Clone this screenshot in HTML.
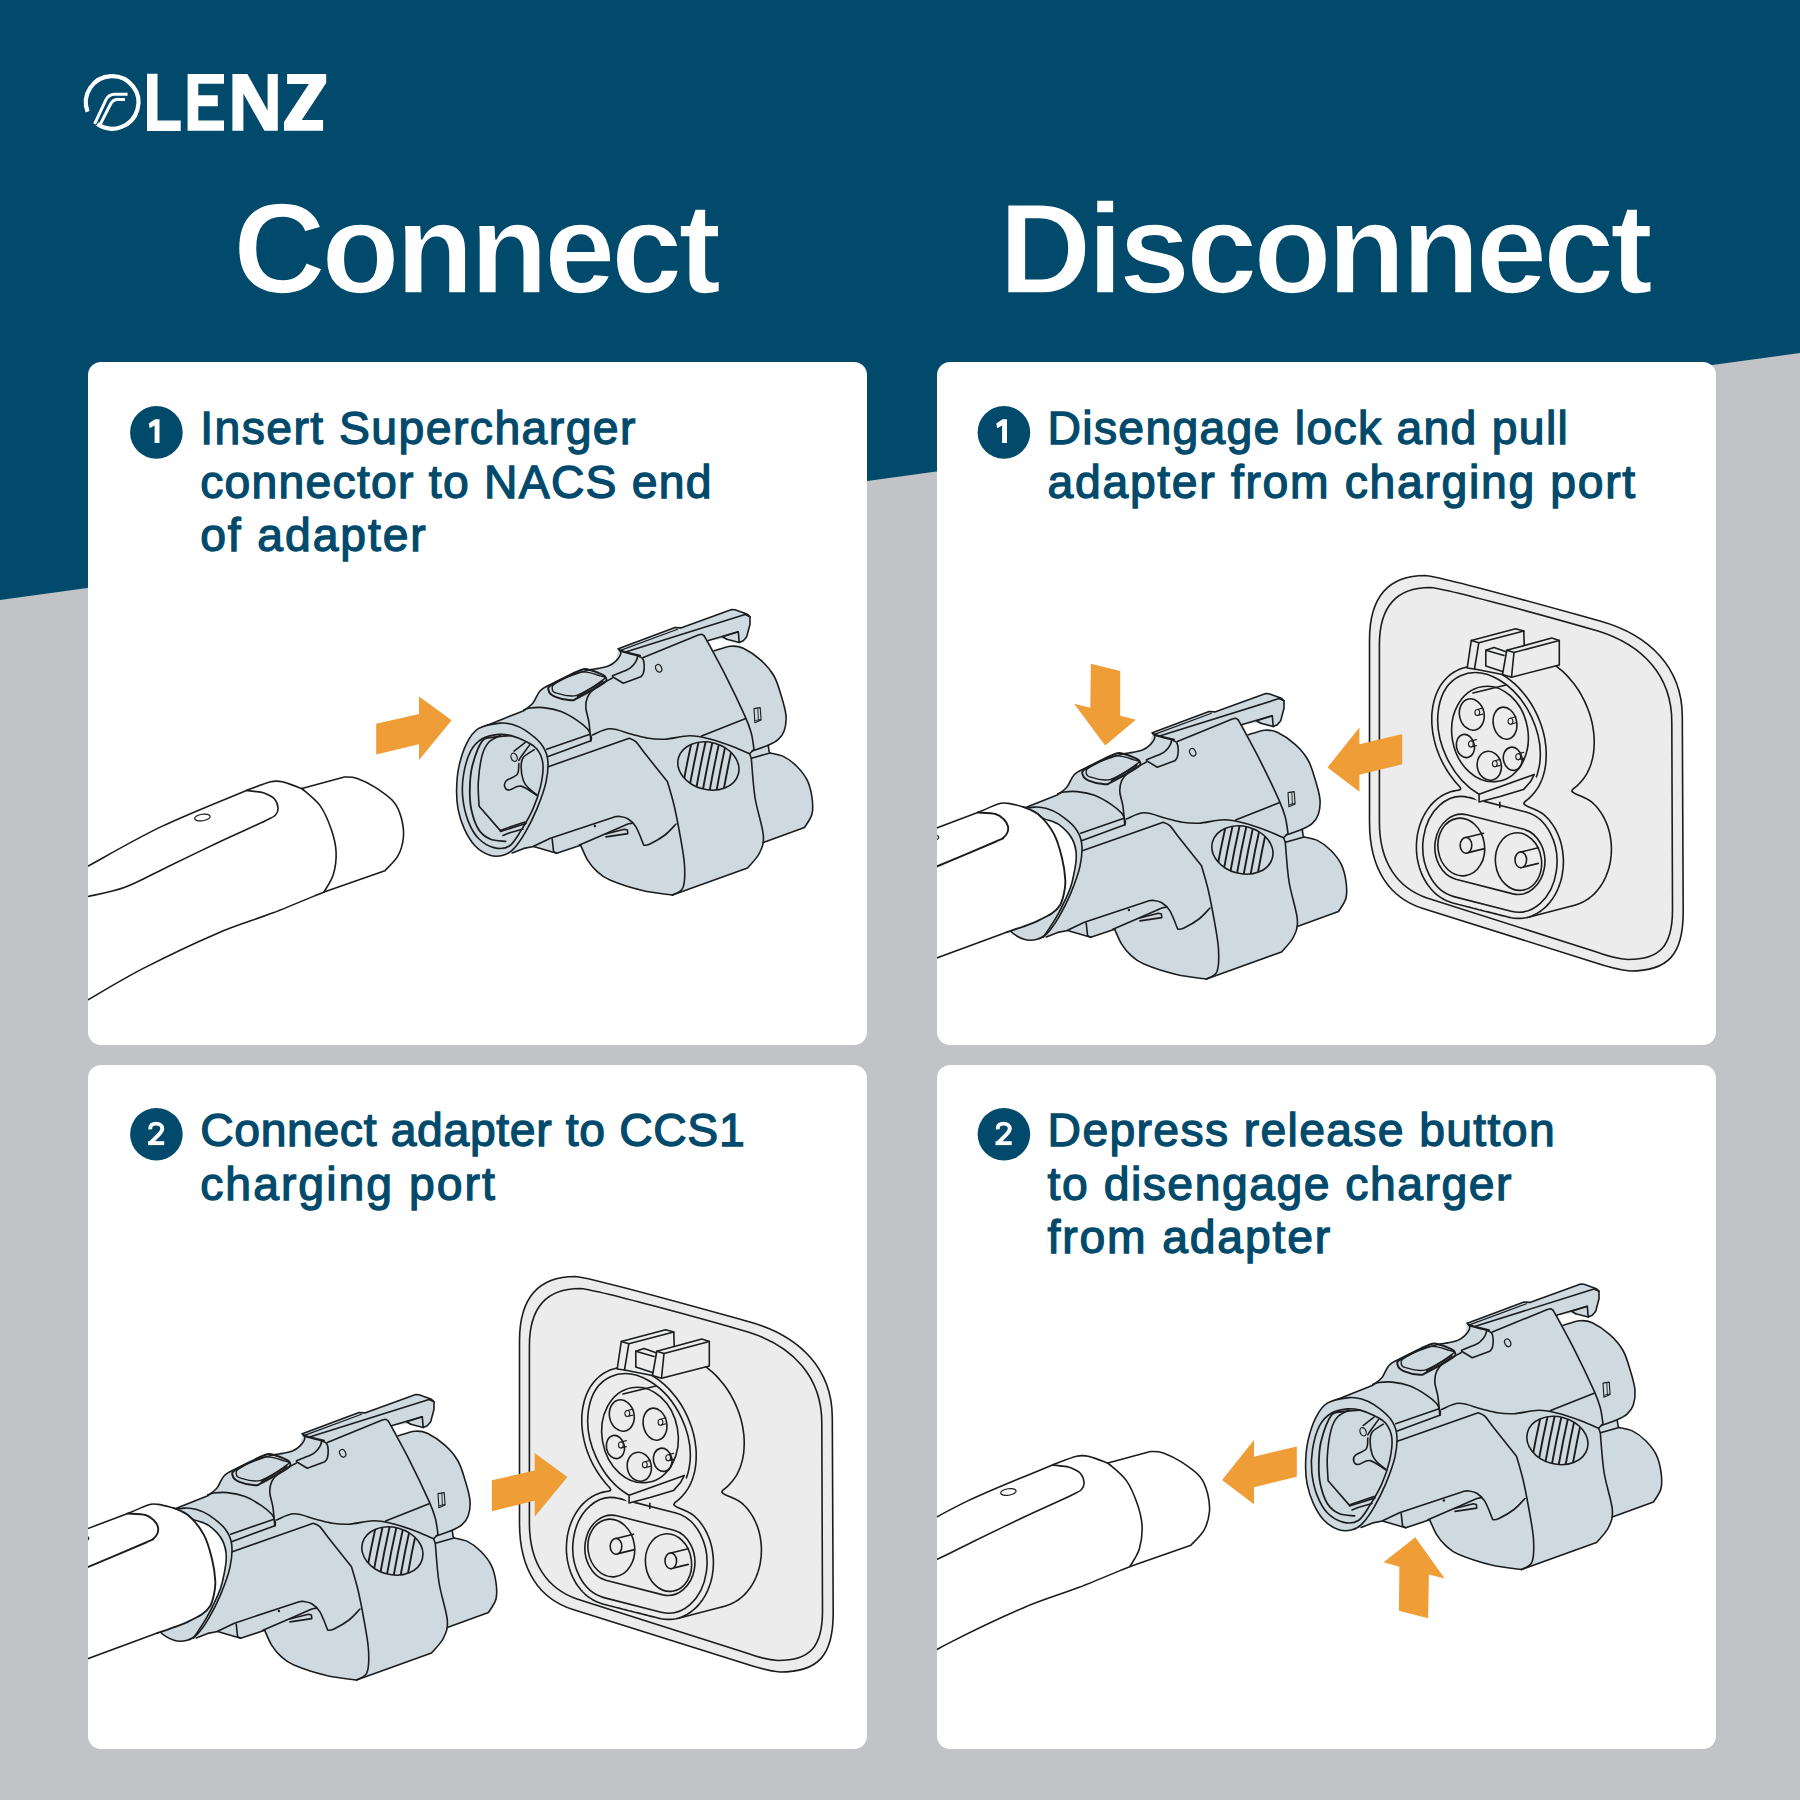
<!DOCTYPE html>
<html><head><meta charset="utf-8">
<style>
html,body{margin:0;padding:0;}
body{width:1800px;height:1800px;position:relative;overflow:hidden;background:#c2c3c7;font-family:"Liberation Sans",sans-serif;}
#bg{position:absolute;left:0;top:0;width:1800px;height:1800px;}
.h1{position:absolute;top:184.3px;color:#fff;font-weight:bold;font-size:127.8px;letter-spacing:-3.88px;-webkit-text-stroke:1.6px #014a6b;line-height:130px;white-space:nowrap;}
.card{position:absolute;width:779px;background:#fff;border-radius:13px;}
.r .txt{left:110.6px}.b .txt{top:39px}
.num{position:absolute;left:42px;top:44px;width:53px;height:53px;border-radius:50%;background:#014a6b;color:#fff;font-weight:bold;font-size:26px;line-height:53px;text-align:center;}
.txt{position:absolute;left:112.2px;top:40.4px;color:#014a6b;font-weight:normal;-webkit-text-stroke:1.3px #014a6b;font-size:46.3px;letter-spacing:1.45px;line-height:53.5px;white-space:nowrap;}
#art{position:absolute;left:0;top:0;width:1800px;height:1800px;}
</style></head>
<body>
<svg id="bg" width="1800" height="1800" viewBox="0 0 1800 1800">
<polygon points="0,0 1800,0 1800,353 0,600" fill="#014a6b"/>
</svg>

<div class="h1" id="hc" style="left:233.2px">Connect</div>
<div class="h1" id="hd" style="left:999px">Disconnect</div>

<div class="card" style="left:88px;top:362px;height:683px">
 <div class="txt"><span>Insert Supercharger</span><br><span style="letter-spacing:1.25px">connector to NACS end</span><br><span style="letter-spacing:1.9px">of adapter</span></div>
</div>
<div class="card r" style="left:937px;top:362px;height:683px">
 <div class="txt"><span style="letter-spacing:1.3px">Disengage lock and pull</span><br><span style="letter-spacing:1.68px">adapter from charging port</span></div>
</div>
<div class="card b" style="left:88px;top:1065px;height:684px">
 <div class="txt"><span style="letter-spacing:0.65px">Connect adapter to CCS1</span><br><span style="letter-spacing:2.03px">charging port</span></div>
</div>
<div class="card r b" style="left:937px;top:1065px;height:684px">
 <div class="txt"><span style="letter-spacing:1.35px">Depress release button</span><br><span style="letter-spacing:1.52px">to disengage charger</span><br><span style="letter-spacing:1.83px">from adapter</span></div>
</div>

<svg id="art" width="1800" height="1800" viewBox="0 0 1800 1800">
<g id="logo" fill="#fff">
<path d="M 87.6 111.8 A 26.3 26.3 0 1 1 97.3 124.1" fill="none" stroke="#fff" stroke-width="4.2"/>
<path d="M 94.6 123.8 L 106 99.6 Q 108.8 94.3 114.5 94.3 L 127.6 94.3" fill="none" stroke="#fff" stroke-width="3"/>
<path d="M 99.6 125.6 L 110.6 104 Q 113 99.6 117.6 99.6 L 125 99.6" fill="none" stroke="#fff" stroke-width="3"/>
<polygon points="147,73.8 157.5,73.8 157.5,120.4 180.7,120.4 180.7,131 147,131"/>
<polygon points="187.6,73.9 224,73.9 224,83.7 198.3,83.7 198.3,95.2 217.8,95.2 217.8,106.3 198.3,106.3 198.3,120.6 224,120.6 224,130.8 187.6,130.8"/>
<polygon points="232.4,130.8 232.4,73.9 247.4,73.9 267.6,110.6 267.6,73.9 277.8,73.9 277.8,130.8 264.4,130.8 243.4,93.5 243.4,130.8"/>
<polygon points="287.1,73.9 326.2,73.9 326.2,83 301.8,120.1 323.1,120.1 323.1,130.8 284,130.8 284,122 308.9,84.1 287.1,84.1"/>
</g>
<g id="nums">
<circle cx="156.4" cy="432.4" r="26.3" fill="#014a6b"/>
<circle cx="1003.9" cy="432.4" r="26.3" fill="#014a6b"/>
<circle cx="156.4" cy="1134.2" r="26.3" fill="#014a6b"/>
<circle cx="1003.9" cy="1134.2" r="26.3" fill="#014a6b"/>
<g id="one" fill="#fff"><polygon points="159.5,419.3 159.5,443 154.6,443 154.6,425.6 149.7,428.2 148.8,423.6 155,419.3"/></g>
<use href="#one" transform="translate(847.5,0)"/>
<g id="two"><path d="M 150.2 1129.4 C 150 1125 152.6 1123.6 156 1123.6 C 159.6 1123.6 162.3 1125.8 162.3 1128.6 C 162.3 1131.2 160.8 1132.6 158.8 1134.6 L 150.8 1142.6" fill="none" stroke="#fff" stroke-width="3.9"/><rect x="148" y="1141.2" width="16.2" height="3.9" fill="#fff"/></g>
<use href="#two" transform="translate(847.5,0)"/>
</g>
<defs><g id="abody" stroke-linejoin="round" stroke-linecap="round"><path d="M457.1 780 L463.3 753.3 L471.3 737.3 L479.3 728.4 L523.8 710.7 L533 703 L540 691 L551 684.3 L570.6 675.8 L587.7 670.3 L598.7 668.4 L608.4 666 L615.8 661.1 L618.3 648.8 L675 627.5 L680.8 627.9 L731.7 609.6 L735 609.8 L747.5 614.2 L750 616.7 L750 624.2 L746.7 636.7 L743.3 640.8 L739.2 642.5 L724 638.8 L708.3 640.8 L714.2 650.8 L730.8 646.2 L743.3 648.3 L761.1 660.4 L774 676 L781 695 L786 715.6 L784.2 730.7 L778 739.6 L768.2 745.3 L769.2 752 L770 752.9 L783.3 756.4 L796.7 766.2 L807.3 780.4 L812 797.5 L812 814 L804.5 827.5 L763.3 842.5 L759.5 853 L747.5 868 L672.5 895 L642.5 890.5 L612.5 880 L596.7 871.1 L587.8 860.4 L580.7 845.3 L556.7 853.3 L533.6 846.5 L523.8 848.4 L512.2 852.9 L503.2 855.3 L490 855.3 L475.2 846 L464.3 828.9 L458.1 809.4Z" fill="#cfdae0" stroke="none"/><path d="M714.2 650.8C717 650 725.9 646.7 730.8 646.2C735.6 645.8 738.2 645.9 743.3 648.3C748.3 650.7 756 655.8 761.1 660.4C766.2 665 770.7 670.2 774 676C777.3 681.8 779 688.4 781 695C783 701.6 785.5 709.6 786 715.6C786.5 721.6 785.5 726.7 784.2 730.7C782.9 734.7 780.7 737.2 778 739.6C775.3 742 772.5 743.4 768.2 745.3C763.9 747.2 754.9 750.1 752.2 751.1" fill="none" stroke="#1a1c1e" stroke-width="1.6"/><path d="M768.2 745.3 L769.2 752" fill="none" stroke="#1a1c1e" stroke-width="1.6"/><path d="M751.5 758.3 L770 752.9" fill="none" stroke="#1a1c1e" stroke-width="1.6"/><path d="M770 752.9C772.2 753.5 778.8 754.2 783.3 756.4C787.8 758.6 792.7 762.2 796.7 766.2C800.7 770.2 804.8 775.2 807.3 780.4C809.8 785.6 811.2 791.9 812 797.5C812.8 803.1 813.2 809 812 814C810.8 819 805.8 825.2 804.5 827.5 L763.3 842.5" fill="none" stroke="#1a1c1e" stroke-width="1.6"/><path d="M704.2 635.8C707.8 642.4 718.8 662.2 725.6 675.6C732.4 689 740.8 706.8 745.1 716.4C749.4 726 749.8 727.8 751.3 733.3C752.8 738.8 753.5 746.6 754 749.3 L749.6 753.8 L751.3 758.2 C751.9 764.8 753 784.7 755 797.5C757 810.3 762.5 825.8 763.3 835C764 844.2 762.1 847.5 759.5 853C756.9 858.5 749.5 865.5 747.5 868 L672.5 895" fill="none" stroke="#1a1c1e" stroke-width="1.6"/><path d="M745.1 718.7 L701.6 736" fill="none" stroke="#1a1c1e" stroke-width="1.6"/><path d="M592.5 735C595.4 734 603.5 728.9 610 728.8C616.5 728.6 625.3 732.6 631.7 734.2C638.1 735.8 642.8 737.5 648.3 738.3C653.8 739.1 658 739.6 665 739.2C672 738.8 682.5 735.8 690 735.8C697.5 735.8 702.9 737.2 710 739C717.1 740.8 725.9 744 732.5 746.5C739.1 749 746.8 752.6 749.6 753.8" fill="none" stroke="#1a1c1e" stroke-width="1.6"/><path d="M548.3 766.7C561.8 762 615.7 743 629.2 738.3 C630.3 738.9 633.3 739.3 635.8 741.7C638.3 744.1 638.9 745.8 644.2 752.5C649.5 759.2 663.6 776.8 667.5 781.7 C668.6 785.6 671.9 796.1 674 805C676.1 813.9 678.2 825 680 835C681.8 845 684 856.2 684.5 865C685 873.8 685 882.5 683 887.5C681 892.5 674.2 893.8 672.5 895" fill="none" stroke="#1a1c1e" stroke-width="1.6"/><path d="M580.7 845.3C581.9 847.8 585.1 856.1 587.8 860.4C590.5 864.7 593 867.8 596.7 871.1C600.4 874.4 602.4 876.8 610 880C617.6 883.2 632.1 888 642.5 890.5C652.9 893 667.5 894.2 672.5 895" fill="none" stroke="#1a1c1e" stroke-width="1.6"/><path d="M533.6 846.2 L550.4 838.2 L614.4 816.9 C615.1 816.8 616.7 816.1 618.9 816.4C621.1 816.7 625 817 627.8 818.7C630.6 820.4 633.1 822.3 635.8 826.7C638.5 831.1 642.5 842.2 643.8 845.3 C644.8 845.1 646.5 845.7 650 844C653.5 842.3 660.7 838.3 665 835C669.3 831.7 674.2 825.8 676 824" fill="none" stroke="#1a1c1e" stroke-width="1.6"/><path d="M578.9 845.3 L605.6 833.8 L627.8 824 L632.2 823.1" fill="none" stroke="#1a1c1e" stroke-width="1.6"/><path d="M605.6 834 L624.4 829.3 L627.4 830 L627.8 833.6 L606 836.9" fill="none" stroke="#1a1c1e" stroke-width="1.6"/><path d="M552.2 839.1 L553.6 851.6 L556.7 853.3 L580.7 845.3" fill="none" stroke="#1a1c1e" stroke-width="1.6"/><circle cx="594.9" cy="826" r="1.2" fill="#1a1c1e"/><path d="M512.2 852.9 L523.8 848.4 L533.6 846.5 L556.7 853.3" fill="none" stroke="#1a1c1e" stroke-width="1.6"/><path d="M523.8 709.8C524.8 709.5 526.8 708.4 530 708C533.2 707.6 538.1 707 543.3 707.6C548.5 708.2 555.5 709.5 561.1 711.6C566.7 713.7 572.7 717.5 577.1 720.4C581.5 723.3 585.4 726.5 587.8 729.3C590.2 732.1 590.8 735.4 591.3 737.3C591.8 739.2 590.9 740.2 590.8 740.8" fill="none" stroke="#1a1c1e" stroke-width="1.6"/><path d="M612.1 678.2C609.2 679.8 599.1 684.9 595 688C590.9 691.1 589.2 693.3 587.7 696.6C586.2 699.9 585.6 703.3 585.8 707.6C586 711.9 588.1 716.7 588.9 722.2C589.7 727.7 590.5 737.7 590.8 740.8" fill="none" stroke="#1a1c1e" stroke-width="1.6"/><path d="M546.7 749.2 L590 734.2" fill="none" stroke="#1a1c1e" stroke-width="1.6"/><path d="M547.5 756.7 L590.8 740.8" fill="none" stroke="#1a1c1e" stroke-width="1.6"/><path d="M479.3 728.4 L523.8 710.7 C525.3 709.4 530.3 706.3 533 703C535.7 699.7 537 694.1 540 691C543 687.9 545.9 686.8 551 684.3C556.1 681.8 564.5 678.1 570.6 675.8C576.7 673.5 583 671.5 587.7 670.3C592.4 669.1 595.2 669.1 598.7 668.4C602.2 667.7 605.5 667.2 608.4 666C611.2 664.8 613.7 663.2 615.8 661.1C617.9 659 620.4 655.4 620.8 653.3C621.2 651.2 618.7 649.5 618.3 648.8" fill="none" stroke="#1a1c1e" stroke-width="1.6"/><path d="M618.3 648.8 L675 627.5 L680.8 627.9 L731.7 609.6 L735 609.8 L747.5 614.2 L750 616.7 L750 624.2 L746.7 636.7 L743.3 640.8 L739.2 642.5 L738.3 631.7 L722.5 636.7 L726.7 639.2" fill="none" stroke="#1a1c1e" stroke-width="1.6"/><path d="M726.7 639.2 L739.2 642.5" fill="none" stroke="#1a1c1e" stroke-width="1.6"/><path d="M625.6 652 L745 614.6 L750 616.7" fill="none" stroke="#1a1c1e" stroke-width="1.6"/><path d="M619.8 650.6 L677.5 629.2" fill="none" stroke="#1a1c1e" stroke-width="1.2"/><path d="M619 649.8 L625.6 652 L640.2 655.6" fill="none" stroke="#1a1c1e" stroke-width="1.6"/><path d="M707.5 640.8 L738.3 631.7" fill="none" stroke="#1a1c1e" stroke-width="1.6"/><path d="M643.3 657.5 L698.3 635 L701.7 634.2 L704.2 635.8" fill="none" stroke="#1a1c1e" stroke-width="1.6"/><path d="M620.8 651.2C623.2 651.9 632.2 654.2 635 655C637.8 655.8 637.4 654.7 637.5 655.8C637.6 656.9 636.8 659.9 635.8 661.7C634.8 663.5 633.2 665.3 631.7 666.7C630.2 668.1 629.9 668.5 626.7 670C623.5 671.5 614.9 674.8 612.5 675.8" fill="none" stroke="#1a1c1e" stroke-width="1.6"/><path d="M637.5 655.8C638.3 656.2 641.4 656.8 642.5 658.3C643.6 659.8 644.1 662.5 644.2 665C644.3 667.5 643.9 671.3 643.3 673.3C642.7 675.2 641.2 676.1 640.8 676.7 L623.3 683.3 L612.5 676.7" fill="none" stroke="#1a1c1e" stroke-width="1.6"/><path d="M548.6 690.4C548.2 688.3 546.9 687.6 552.2 684.3C557.5 680.9 574.2 672.7 580.3 670.3C586.4 667.9 585.2 669 588.9 669.7C592.6 670.4 599.4 673.2 602.3 674.6C605.1 676 605.8 676.8 606 678.2C606.2 679.6 608.3 679.8 603.6 683.1C598.9 686.4 583.4 694.9 577.9 697.8C572.4 700.6 574.5 700.4 570.6 700.2C566.7 700 558.4 698.2 554.7 696.6C551 695 549 692.5 548.6 690.4Z" fill="none" stroke="#1a1c1e" stroke-width="2.0"/><path d="M552.2 688C552.2 686.4 551.2 685.8 555.9 683.1C560.6 680.5 573 673.3 580.3 672.1C587.6 670.9 596 674.6 599.9 675.8C603.8 677 607.5 676.1 603.6 679.4C599.7 682.6 584.7 693 576.7 695.3C568.8 697.5 560 694.1 555.9 692.9C551.8 691.7 552.2 689.6 552.2 688Z" fill="none" stroke="#1a1c1e" stroke-width="1.4"/><path d="M602.8 681.4 L577.5 696.5" fill="none" stroke="#1a1c1e" stroke-width="1.6"/><ellipse cx="658.7" cy="668.3" rx="2.9" ry="4" transform="rotate(-25 658.7 668.3)" fill="none" stroke="#1a1c1e" stroke-width="1.2"/><path d="M754 708.6 L760.2 707.6 L761.1 720 L754.9 722.7Z" fill="none" stroke="#1a1c1e" stroke-width="1.1"/><path d="M755.6 720.6 L760.6 719.4" fill="none" stroke="#1a1c1e" stroke-width="0.9"/><path d="M757.8 708.2 L758.4 720" fill="none" stroke="#1a1c1e" stroke-width="0.9"/><clipPath id="ovc"><ellipse cx="708.4" cy="766" rx="31" ry="23.6" transform="rotate(15 708.4 766)"/></clipPath><path d="M693.7 733 Q686.1 766 680.3 800 M700.6 733 Q693.0 766 687.2 800 M707.6 733 Q700.0 766 694.2 800 M714.5 733 Q706.9 766 701.1 800 M721.4 733 Q713.8 766 708.0 800 M728.3 733 Q720.7 766 714.9 800 M735.3 733 Q727.7 766 721.9 800 " fill="none" stroke="#1a1c1e" stroke-width="1.9" clip-path="url(#ovc)"/><ellipse cx="708.4" cy="766" rx="31" ry="23.6" transform="rotate(15 708.4 766)" fill="none" stroke="#1a1c1e" stroke-width="1.6"/></g><g id="nozzle" stroke-linejoin="round" stroke-linecap="round"><path d="M500.1 723.1C494.3 723.8 483.9 725.2 478.3 728.6C472.7 732 469.9 736.9 466.7 743.3C463.5 749.6 460.6 758.9 458.9 766.7C457.2 774.5 456.7 782.9 456.6 790C456.5 797.1 456.8 802.9 458.1 809.4C459.4 815.9 461.5 822.8 464.3 828.9C467.1 835 470.9 841.6 475.2 846C479.5 850.4 485.3 853.8 490 855.3C494.7 856.8 499.3 856.3 503.2 855.3C507.1 854.3 509.7 852.9 513.3 849.1C516.9 845.4 521.1 839.4 525 832.8C528.9 826.2 533.2 817.8 536.7 809.4C540.2 801 544.2 790.6 546 782.2C547.8 773.8 548.5 765.4 547.6 758.9C546.7 752.4 544.4 748.1 540.6 743.3C536.8 738.5 529.5 733.2 525 730.1C520.5 727 517.4 725.9 513.3 724.7C509.1 723.5 505.9 722.5 500.1 723.1Z" fill="#cfdae0" stroke="#1a1c1e" stroke-width="1.6"/><path d="M498.6 734.4C493.8 734.9 486.9 735.9 482.2 738.7C477.5 741.5 473.7 745.2 470.6 751.1C467.5 757 464.9 766.6 463.6 774.4C462.3 782.2 462 790 462.8 797.8C463.6 805.6 465.6 814.4 468.2 821.1C470.8 827.8 474 833.8 478.3 838.2C482.6 842.6 488.7 846.3 493.9 847.6C499.1 848.9 504.9 848.9 509.4 846C513.9 843.1 517.2 836.5 521.1 830.4C525 824.3 529.5 816.8 532.8 809.4C536 802 538.9 793.7 540.6 786.1C542.3 778.5 543.5 769.8 542.9 763.6C542.2 757.4 539.7 752.6 536.7 748.8C533.7 745 529.3 743.2 525 741C520.7 738.8 515.4 736.7 511 735.6C506.6 734.5 503.4 733.9 498.6 734.4Z" fill="none" stroke="#1a1c1e" stroke-width="1.6"/><path d="M511 735.6C508.1 735.9 498.7 736.3 493.9 737.2C489.1 738.1 485.8 736.1 482.2 741C478.6 745.9 474.2 758.5 472.1 766.7C470 774.9 469.9 782.9 469.8 790C469.7 797.1 469.9 802.9 471.3 809.4C472.7 815.9 475.2 824 478.3 828.9C481.4 833.8 485.4 836.9 490 839C494.6 841.1 503 840.9 505.6 841.3" fill="none" stroke="#1a1c1e" stroke-width="1.8"/><path d="M500 735.5C498.2 736.6 492 738.8 489 742C486 745.2 484 748.3 482.2 755C480.4 761.7 478.8 773.7 478.3 782.2C477.8 790.8 479 802.3 479.1 806.3 L500.1 830.4 L525 821.9" fill="none" stroke="#1a1c1e" stroke-width="1.6"/><path d="M500.5 831.5 L526 823.5" fill="none" stroke="#1a1c1e" stroke-width="1.6"/><path d="M503 835.5 L509 833 L523 829" fill="none" stroke="#1a1c1e" stroke-width="1.6"/><ellipse cx="514.1" cy="757.3" rx="3" ry="4.3" transform="rotate(-20 514.1 757.3)" fill="none" stroke="#1a1c1e" stroke-width="1.2"/><path d="M514.1 751.1 L525 742.6" fill="none" stroke="#1a1c1e" stroke-width="1.6"/><path d="M518.8 760.4C519.2 759.8 519.3 759.2 521.1 756.6C522.9 754 528.2 746.9 529.6 744.9" fill="none" stroke="#1a1c1e" stroke-width="1.6"/><path d="M518.8 763.6C518.5 765.4 519.3 771.5 517.2 774.4C515.1 777.2 508.4 778.6 506.3 780.7C504.2 782.8 504.3 785.4 504.8 786.9C505.3 788.4 506.7 790.1 509.4 790C512.1 789.9 516.5 785.2 521.1 786.1C525.7 787 534.1 793.9 536.7 795.4" fill="none" stroke="#1a1c1e" stroke-width="1.6"/><path d="M534.3 749.6C532.5 750.9 525.6 754.4 523.4 757.3C521.2 760.1 521.1 762.8 521.1 766.7C521.1 770.6 522.1 777.1 523.4 780.7C524.7 784.3 526.7 786.1 528.9 788.4C531.1 790.7 535.4 793.7 536.7 794.7" fill="none" stroke="#1a1c1e" stroke-width="1.6"/></g><g id="handle" stroke-linejoin="round" stroke-linecap="round"><path d="M88 866.1 L161.8 826.4 L246.6 790.4 L270.6 781.8 L283.5 782.1 L301.9 788.6 L344.4 777 L357.3 778.4 L375.7 787.7 L394.2 802.4 L401.6 819 L403.4 837.5 L397.9 855.9 L384.9 870.7 L324.1 891.9 L272.4 913.1 L217.1 933.4 L143.3 968.4 L88 999.8Z" fill="#fff" stroke="none"/><path d="M88 866.1C100.3 859.5 135.4 839 161.8 826.4C188.2 813.8 232.5 796.4 246.6 790.4 C250.6 789 264.5 783.2 270.6 781.8C276.8 780.4 278.3 781 283.5 782.1C288.7 783.2 298.8 787.5 301.9 788.6" fill="none" stroke="#1a1c1e" stroke-width="1.6"/><path d="M301.9 788.6C305 791.5 315.5 799.2 320.4 806.1C325.3 813 328.9 822.4 331.5 830.1C334.1 837.8 335.8 844.8 336.1 852.2C336.4 859.6 335.3 867.8 333.3 874.4C331.3 881 325.6 889 324.1 891.9" fill="none" stroke="#1a1c1e" stroke-width="1.6"/><path d="M301.9 788.6 L344.4 777 C346.5 777.2 352.1 776.6 357.3 778.4C362.5 780.2 369.6 783.7 375.7 787.7C381.8 791.7 389.9 797.2 394.2 802.4C398.5 807.6 400.1 813.1 401.6 819C403.1 824.9 404 831.4 403.4 837.5C402.8 843.6 401 850.4 397.9 855.9C394.8 861.4 387.1 868.2 384.9 870.7 L324.1 891.9" fill="none" stroke="#1a1c1e" stroke-width="1.6"/><path d="M88 999.8C97.2 994.6 121.8 979.5 143.3 968.4C164.8 957.3 195.6 942.6 217.1 933.4C238.6 924.2 254.6 920 272.4 913.1C290.2 906.2 315.5 895.4 324.1 891.9" fill="none" stroke="#1a1c1e" stroke-width="1.6"/><path d="M88 896.5C94.2 895 111.7 892.2 124.9 887.3C138.1 882.4 151.9 874.4 167.3 867C182.7 859.6 200.8 850.7 217.1 843C233.4 835.3 255.3 825.7 265 821C274.7 816.3 273.3 817.2 275.5 815C277.7 812.8 278.2 810.7 278 808C277.8 805.3 276.8 801.5 274.5 799C272.2 796.5 267.4 794.3 264 793C260.6 791.7 256.9 791.8 254 791.4C251.1 791 247.8 790.6 246.6 790.4" fill="none" stroke="#1a1c1e" stroke-width="1.6"/><ellipse cx="202.4" cy="817.5" rx="7.8" ry="3.3" transform="rotate(-8 202.4 817.5)" fill="none" stroke="#1a1c1e" stroke-width="1.2"/></g><polygon id="arR" points="376.2,723.7 419,713.9 419,696.5 451.7,720.3 419,760.1 419,744.2 376.2,754.6" fill="#ef9d36"/><g id="conn" stroke-linejoin="round" stroke-linecap="round"><path d="M1034.1 807.1C1028.3 807.8 1017.9 809.2 1012.3 812.6C1006.7 816 1003.9 820.9 1000.7 827.3C997.5 833.6 994.6 842.9 992.9 850.7C991.2 858.5 990.7 866.9 990.6 874C990.5 881.1 990.8 886.9 992.1 893.4C993.4 899.9 995.4 906.8 998.3 912.9C1001.1 919 1004.9 925.6 1009.2 930C1013.5 934.4 1019.3 937.8 1024 939.3C1028.7 940.8 1033.3 940.3 1037.2 939.3C1041.1 938.3 1043.7 936.9 1047.3 933.1C1050.9 929.4 1055.1 923.4 1059 916.8C1062.9 910.2 1067.2 901.8 1070.7 893.4C1074.2 885 1078.2 874.6 1080 866.2C1081.8 857.8 1082.5 849.4 1081.6 842.9C1080.7 836.4 1078.4 832.1 1074.6 827.3C1070.8 822.5 1063.5 817.2 1059 814.1C1054.5 811 1051.5 809.9 1047.3 808.7C1043.1 807.5 1039.9 806.5 1034.1 807.1Z" fill="#cfdae0" stroke="#1a1c1e" stroke-width="1.6"/><path d="M930 830.5 L977.7 812.5 L998 803.9 L1008.2 803.4 L1023.4 806.9 L1043.7 818.6 L1059 824.7 L1072.2 839 L1076.3 856.3 L1072.2 881.7 L1064 902 L1060 905.3 L1052 913.3 L1036.7 921.3 L1026.7 925.3 L1007.3 932 L930 960.5Z" fill="#fff" stroke="none"/><path d="M1038.7 814.6C1039.5 815.3 1040.3 816.9 1043.7 818.6C1047.1 820.3 1054.2 821.3 1059 824.7C1063.8 828.1 1069.3 833.7 1072.2 839C1075.1 844.3 1076.3 849.2 1076.3 856.3C1076.3 863.4 1073.8 875 1072.2 881.7C1070.6 888.4 1069.3 890.9 1066.7 896.7C1064.1 902.5 1060.6 909.9 1056.7 916.7C1052.8 923.5 1045.5 933.9 1043.3 937.3" fill="none" stroke="#1a1c1e" stroke-width="1.6"/><path d="M930 830.5C938 827.5 966.4 816.9 977.7 812.5C989 808.1 992.9 805.4 998 803.9C1003.1 802.4 1004 802.9 1008.2 803.4C1012.4 803.9 1020.9 806.3 1023.4 806.9" fill="none" stroke="#1a1c1e" stroke-width="1.6"/><path d="M1023.4 806.9C1026 808.2 1033.6 810.1 1038.7 814.6C1043.8 819.1 1050 826.7 1053.9 833.9C1057.8 841.1 1060.1 850.3 1062 858C1063.9 865.7 1065 874.1 1065.3 880C1065.6 885.9 1064.9 889.1 1064 893.3C1063.1 897.5 1062 902 1060 905.3C1058 908.6 1055.9 910.6 1052 913.3C1048.1 916 1040.9 919.3 1036.7 921.3C1032.5 923.3 1031.6 923.5 1026.7 925.3C1021.8 927.1 1010.5 930.9 1007.3 932" fill="none" stroke="#1a1c1e" stroke-width="1.9"/><path d="M930 960.5 L1007.3 932" fill="none" stroke="#1a1c1e" stroke-width="1.6"/><path d="M930 869.3C941 864.7 983.8 846.7 996 841.5C1008.2 836.3 1001.1 839.4 1003 838C1004.9 836.6 1006.4 834.9 1007.2 833C1008 831.1 1008.5 828.8 1008 826.5C1007.5 824.2 1006.1 821.6 1004 819.5C1001.9 817.4 999.9 815.2 995.5 814C991.1 812.8 980.7 812.8 977.7 812.5" fill="none" stroke="#1a1c1e" stroke-width="1.9"/><ellipse cx="931" cy="838.2" rx="7.8" ry="3.3" transform="rotate(-8 931 838.2)" fill="none" stroke="#1a1c1e" stroke-width="1.2"/></g><g id="port" stroke-linejoin="round" stroke-linecap="round"><path d="M1369.5 640 C1369.5 597 1388 575.5 1425.3 575.5 C1440 576 1560 610 1600 621 C1650 635 1682 668 1682.3 716 L1683.2 912 C1683.2 955 1668 971 1630 971 C1618 970 1605 966 1593 962 L1423 908.5 C1390 898 1369.5 870 1369.5 822 Z" fill="#ececec" stroke="#1a1c1e" stroke-width="1.6"/><path d="M1379.4 645 C1379.4 607 1396 587.5 1430 587.5 C1445 588 1560 620 1598 631 C1643 645 1671.8 676 1671.8 722 L1672.5 910 C1672.5 946 1660 959.5 1628 959.5 C1617 959 1606 955.5 1595 951.5 L1427 898 C1398 888 1379.4 863 1379.4 822 Z" fill="none" stroke="#1a1c1e" stroke-width="1.6"/><path d="M1536.4 789.9 L1534.7 792.3 L1532.7 794.6 L1530.6 796.8 L1528.4 798.8 L1526.2 800.6 L1524.4 802.2 L1523.8 803.6 L1525.0 804.9 L1527.3 806.2 L1530.0 807.4 L1532.7 808.6 L1535.4 809.8 L1538.2 811.1 L1540.8 812.5 L1543.2 814.2 L1545.5 816.2 L1547.6 818.3 L1549.6 820.5 L1551.4 822.9 L1553.1 825.4 L1554.7 827.9 L1556.1 830.5 L1557.4 833.2 L1558.6 836.0 L1559.7 838.8 L1560.6 841.7 L1561.4 844.6 L1562.0 847.5 L1562.5 850.4 L1562.9 853.4 L1563.2 856.4 L1563.4 859.4 L1563.4 862.4 L1563.3 865.4 L1563.1 868.4 L1562.7 871.4 L1562.3 874.3 L1561.7 877.3 L1561.0 880.2 L1560.1 883.1 L1559.1 885.9 L1558.0 888.7 L1556.8 891.4 L1555.4 894.1 L1553.9 896.6 L1552.2 899.2 L1550.4 901.6 L1548.5 903.9 L1546.5 906.1 L1544.3 908.1 L1542.0 910.0 L1539.6 911.8 L1537.0 913.4 L1534.4 914.8 L1531.6 915.9 L1528.8 916.9 L1525.9 917.7 L1523.0 918.2 L1520.0 918.4 L1517.0 918.4 L1514.0 918.2 L1511.1 917.7 L1508.1 917.1 L1505.2 916.3 L1502.3 915.6 L1499.4 914.9 L1496.5 914.1 L1493.6 913.4 L1490.7 912.6 L1487.8 911.9 L1484.8 911.2 L1481.9 910.4 L1479.0 909.7 L1476.1 908.9 L1473.2 908.2 L1470.3 907.4 L1467.4 906.7 L1464.5 906.0 L1461.6 905.2 L1458.7 904.5 L1455.7 903.7 L1452.8 902.9 L1450.0 902.0 L1447.2 901.0 L1444.5 899.7 L1441.9 898.2 L1439.4 896.6 L1437.0 894.8 L1434.7 892.8 L1432.6 890.7 L1430.6 888.5 L1428.7 886.1 L1427.0 883.7 L1425.4 881.2 L1423.9 878.5 L1422.6 875.9 L1421.4 873.1 L1420.3 870.3 L1419.4 867.5 L1418.6 864.6 L1417.9 861.6 L1417.3 858.7 L1416.9 855.7 L1416.6 852.7 L1416.4 849.8 L1416.4 846.8 L1416.5 843.8 L1416.7 840.8 L1417.0 837.8 L1417.4 834.8 L1418.0 831.9 L1418.7 829.0 L1419.5 826.1 L1420.5 823.2 L1421.6 820.4 L1422.8 817.7 L1424.2 815.0 L1425.7 812.4 L1427.3 809.9 L1429.0 807.5 L1430.9 805.1 L1432.9 802.9 L1435.1 800.8 L1437.4 798.9 L1439.8 797.1 L1442.3 795.5 L1444.9 794.1 L1447.7 792.9 L1450.5 791.8 L1453.4 791.1 L1456.2 790.5 L1458.9 790.1 L1460.5 789.4 L1460.6 788.1 L1459.3 786.3 L1457.4 784.2 L1455.4 781.9 L1453.5 779.6 L1451.7 777.2 L1449.9 774.8 L1448.2 772.3 L1446.6 769.8 L1445.1 767.2 L1443.6 764.6 L1442.2 761.9 L1440.9 759.2 L1439.7 756.5 L1438.6 753.7 L1437.5 750.9 L1436.5 748.1 L1435.6 745.2 L1434.8 742.3 L1434.1 739.4 L1433.5 736.4 L1432.9 733.5 L1432.5 730.5 L1432.2 727.5 L1431.9 724.5 L1431.8 721.6 L1431.8 718.6 L1431.8 715.6 L1432.0 712.6 L1432.4 709.6 L1432.8 706.6 L1433.4 703.7 L1434.1 700.7 L1434.9 697.9 L1435.9 695.0 L1437.0 692.3 L1438.3 689.6 L1439.7 686.9 L1441.3 684.4 L1443.1 682.0 L1445.0 679.7 L1447.1 677.5 L1449.3 675.5 L1451.7 673.7 L1454.2 672.0 L1456.8 670.6 L1459.5 669.3 L1462.3 668.3 L1465.2 667.5 L1468.1 666.9 L1471.1 666.6 L1474.1 666.4 L1477.1 666.5 L1480.1 666.8 L1483.0 667.2 L1486.0 667.8 L1488.8 668.6 L1491.7 669.6 L1494.5 670.7 L1497.2 671.9 L1499.9 673.3 L1502.5 674.8 L1505.0 676.4 L1507.5 678.1 L1509.9 679.9 L1512.2 681.8 L1514.5 683.7 L1516.7 685.8 L1518.8 687.9 L1520.8 690.1 L1522.8 692.4 L1524.7 694.7 L1526.5 697.1 L1528.3 699.5 L1530.0 702.0 L1531.6 704.5 L1533.1 707.1 L1534.6 709.8 L1535.9 712.4 L1537.2 715.1 L1538.4 717.9 L1539.6 720.7 L1540.6 723.5 L1541.6 726.3 L1542.5 729.2 L1543.3 732.1 L1544.0 735.0 L1544.6 737.9 L1545.1 740.9 L1545.5 743.9 L1545.9 746.8 L1546.1 749.8 L1546.2 752.8 L1546.2 755.8 L1546.1 758.8 L1545.9 761.8 L1545.6 764.8 L1545.1 767.8 L1544.6 770.7 L1543.8 773.6 L1543.0 776.5 L1542.0 779.3 L1540.8 782.1 L1539.5 784.8 L1538.1 787.4Z" transform="translate(48,-12.5)" fill="#ececec" stroke="#1a1c1e" stroke-width="1.6" stroke-linejoin="round"/><path d="M1464.3 667.6 L1512.3 655.1 L1537 724.5 L1489 737 Z" fill="#ececec" stroke="none"/><path d="M1527.5 917.5 L1575.5 905 L1566.5 849.1 L1518.5 861.6 Z" fill="#ececec" stroke="none"/><path d="M1527.5 917.5 L1575.5 905" fill="none" stroke="#1a1c1e" stroke-width="1.6"/><path d="M1536.4 789.9 L1534.7 792.3 L1532.7 794.6 L1530.6 796.8 L1528.4 798.8 L1526.2 800.6 L1524.4 802.2 L1523.8 803.6 L1525.0 804.9 L1527.3 806.2 L1530.0 807.4 L1532.7 808.6 L1535.4 809.8 L1538.2 811.1 L1540.8 812.5 L1543.2 814.2 L1545.5 816.2 L1547.6 818.3 L1549.6 820.5 L1551.4 822.9 L1553.1 825.4 L1554.7 827.9 L1556.1 830.5 L1557.4 833.2 L1558.6 836.0 L1559.7 838.8 L1560.6 841.7 L1561.4 844.6 L1562.0 847.5 L1562.5 850.4 L1562.9 853.4 L1563.2 856.4 L1563.4 859.4 L1563.4 862.4 L1563.3 865.4 L1563.1 868.4 L1562.7 871.4 L1562.3 874.3 L1561.7 877.3 L1561.0 880.2 L1560.1 883.1 L1559.1 885.9 L1558.0 888.7 L1556.8 891.4 L1555.4 894.1 L1553.9 896.6 L1552.2 899.2 L1550.4 901.6 L1548.5 903.9 L1546.5 906.1 L1544.3 908.1 L1542.0 910.0 L1539.6 911.8 L1537.0 913.4 L1534.4 914.8 L1531.6 915.9 L1528.8 916.9 L1525.9 917.7 L1523.0 918.2 L1520.0 918.4 L1517.0 918.4 L1514.0 918.2 L1511.1 917.7 L1508.1 917.1 L1505.2 916.3 L1502.3 915.6 L1499.4 914.9 L1496.5 914.1 L1493.6 913.4 L1490.7 912.6 L1487.8 911.9 L1484.8 911.2 L1481.9 910.4 L1479.0 909.7 L1476.1 908.9 L1473.2 908.2 L1470.3 907.4 L1467.4 906.7 L1464.5 906.0 L1461.6 905.2 L1458.7 904.5 L1455.7 903.7 L1452.8 902.9 L1450.0 902.0 L1447.2 901.0 L1444.5 899.7 L1441.9 898.2 L1439.4 896.6 L1437.0 894.8 L1434.7 892.8 L1432.6 890.7 L1430.6 888.5 L1428.7 886.1 L1427.0 883.7 L1425.4 881.2 L1423.9 878.5 L1422.6 875.9 L1421.4 873.1 L1420.3 870.3 L1419.4 867.5 L1418.6 864.6 L1417.9 861.6 L1417.3 858.7 L1416.9 855.7 L1416.6 852.7 L1416.4 849.8 L1416.4 846.8 L1416.5 843.8 L1416.7 840.8 L1417.0 837.8 L1417.4 834.8 L1418.0 831.9 L1418.7 829.0 L1419.5 826.1 L1420.5 823.2 L1421.6 820.4 L1422.8 817.7 L1424.2 815.0 L1425.7 812.4 L1427.3 809.9 L1429.0 807.5 L1430.9 805.1 L1432.9 802.9 L1435.1 800.8 L1437.4 798.9 L1439.8 797.1 L1442.3 795.5 L1444.9 794.1 L1447.7 792.9 L1450.5 791.8 L1453.4 791.1 L1456.2 790.5 L1458.9 790.1 L1460.5 789.4 L1460.6 788.1 L1459.3 786.3 L1457.4 784.2 L1455.4 781.9 L1453.5 779.6 L1451.7 777.2 L1449.9 774.8 L1448.2 772.3 L1446.6 769.8 L1445.1 767.2 L1443.6 764.6 L1442.2 761.9 L1440.9 759.2 L1439.7 756.5 L1438.6 753.7 L1437.5 750.9 L1436.5 748.1 L1435.6 745.2 L1434.8 742.3 L1434.1 739.4 L1433.5 736.4 L1432.9 733.5 L1432.5 730.5 L1432.2 727.5 L1431.9 724.5 L1431.8 721.6 L1431.8 718.6 L1431.8 715.6 L1432.0 712.6 L1432.4 709.6 L1432.8 706.6 L1433.4 703.7 L1434.1 700.7 L1434.9 697.9 L1435.9 695.0 L1437.0 692.3 L1438.3 689.6 L1439.7 686.9 L1441.3 684.4 L1443.1 682.0 L1445.0 679.7 L1447.1 677.5 L1449.3 675.5 L1451.7 673.7 L1454.2 672.0 L1456.8 670.6 L1459.5 669.3 L1462.3 668.3 L1465.2 667.5 L1468.1 666.9 L1471.1 666.6 L1474.1 666.4 L1477.1 666.5 L1480.1 666.8 L1483.0 667.2 L1486.0 667.8 L1488.8 668.6 L1491.7 669.6 L1494.5 670.7 L1497.2 671.9 L1499.9 673.3 L1502.5 674.8 L1505.0 676.4 L1507.5 678.1 L1509.9 679.9 L1512.2 681.8 L1514.5 683.7 L1516.7 685.8 L1518.8 687.9 L1520.8 690.1 L1522.8 692.4 L1524.7 694.7 L1526.5 697.1 L1528.3 699.5 L1530.0 702.0 L1531.6 704.5 L1533.1 707.1 L1534.6 709.8 L1535.9 712.4 L1537.2 715.1 L1538.4 717.9 L1539.6 720.7 L1540.6 723.5 L1541.6 726.3 L1542.5 729.2 L1543.3 732.1 L1544.0 735.0 L1544.6 737.9 L1545.1 740.9 L1545.5 743.9 L1545.9 746.8 L1546.1 749.8 L1546.2 752.8 L1546.2 755.8 L1546.1 758.8 L1545.9 761.8 L1545.6 764.8 L1545.1 767.8 L1544.6 770.7 L1543.8 773.6 L1543.0 776.5 L1542.0 779.3 L1540.8 782.1 L1539.5 784.8 L1538.1 787.4Z" fill="#ececec" stroke="#1a1c1e" stroke-width="1.6"/><clipPath id="clU"><polygon points="1380,560 1620,560 1620,800 1545,792 1536,777 1479.1,794.2 1470,800 1380,800"/></clipPath><clipPath id="clL"><polygon points="1380,1000 1620,1000 1620,812 1524,789.6 1480,802.5 1470,795 1380,765"/></clipPath><g clip-path="url(#clU)"><ellipse cx="1489.0" cy="737.0" rx="47.0" ry="67.5" transform="rotate(-25 1489.0 737.0)" fill="none" stroke="#1a1c1e" stroke-width="1.6"/></g><g clip-path="url(#clL)"><path d="M1468.7 797.4 L1525.9 812.0 A38.5 50.5 0 0 1 1511.1 911.2 L1453.9 896.6 A38.5 50.5 0 0 1 1468.7 797.4 Z" fill="none" stroke="#1a1c1e" stroke-width="1.6"/></g><ellipse cx="1490.0" cy="734.0" rx="38.0" ry="48.0" transform="rotate(-10 1490.0 734.0)" fill="none" stroke="#1a1c1e" stroke-width="1.6"/><path d="M1473 693 L1506 685" fill="none" stroke="#1a1c1e" stroke-width="1.6"/><path d="M1479.1 794.2 L1534.3 774.4 L1530.4 781.8 L1523.4 789.6 L1500 796.5 L1479.1 802Z" fill="#ececec" stroke="#1a1c1e" stroke-width="1.6"/><path d="M1499.8 802.3 L1499.8 807.5" fill="none" stroke="#1a1c1e" stroke-width="1.6"/><path d="M1466.8 814.7 L1524.0 829.3 A27.0 33.0 0 0 1 1513.0 893.9 L1455.8 879.3 A27.0 33.0 0 0 1 1466.8 814.7 Z" fill="none" stroke="#1a1c1e" stroke-width="1.6"/><ellipse cx="1471.8" cy="714.5" rx="12.3" ry="15.8" transform="rotate(-12 1471.8 714.5)" fill="none" stroke="#1a1c1e" stroke-width="1.6"/><path d="M1477.3 709.5 L1482.8 708.1" fill="none" stroke="#1a1c1e" stroke-width="1.1"/><path d="M1477.3 715.5 L1482.8 714.1" fill="none" stroke="#1a1c1e" stroke-width="1.1"/><ellipse cx="1477.3" cy="712.5" rx="2.4" ry="3" fill="#ececec" stroke="#1a1c1e" stroke-width="1.1"/><ellipse cx="1505.0" cy="723.2" rx="11.7" ry="16.2" transform="rotate(-12 1505.0 723.2)" fill="none" stroke="#1a1c1e" stroke-width="1.6"/><path d="M1510.5 718.2 L1516 716.8" fill="none" stroke="#1a1c1e" stroke-width="1.1"/><path d="M1510.5 724.2 L1516 722.8" fill="none" stroke="#1a1c1e" stroke-width="1.1"/><ellipse cx="1510.5" cy="721.2" rx="2.4" ry="3" fill="#ececec" stroke="#1a1c1e" stroke-width="1.1"/><ellipse cx="1465.4" cy="746.0" rx="9.0" ry="11.7" transform="rotate(-12 1465.4 746.0)" fill="none" stroke="#1a1c1e" stroke-width="1.6"/><path d="M1470.9 741 L1476.4 739.6" fill="none" stroke="#1a1c1e" stroke-width="1.1"/><path d="M1470.9 747 L1476.4 745.6" fill="none" stroke="#1a1c1e" stroke-width="1.1"/><ellipse cx="1470.9" cy="744.0" rx="2.4" ry="3" fill="#ececec" stroke="#1a1c1e" stroke-width="1.1"/><ellipse cx="1489.3" cy="765.8" rx="12.0" ry="14.6" transform="rotate(-12 1489.3 765.8)" fill="none" stroke="#1a1c1e" stroke-width="1.6"/><path d="M1494.8 760.8 L1500.3 759.4" fill="none" stroke="#1a1c1e" stroke-width="1.1"/><path d="M1494.8 766.8 L1500.3 765.4" fill="none" stroke="#1a1c1e" stroke-width="1.1"/><ellipse cx="1494.8" cy="763.8" rx="2.4" ry="3" fill="#ececec" stroke="#1a1c1e" stroke-width="1.1"/><ellipse cx="1512.7" cy="758.8" rx="9.3" ry="11.7" transform="rotate(-12 1512.7 758.8)" fill="none" stroke="#1a1c1e" stroke-width="1.6"/><path d="M1518.2 753.8 L1523.7 752.4" fill="none" stroke="#1a1c1e" stroke-width="1.1"/><path d="M1518.2 759.8 L1523.7 758.4" fill="none" stroke="#1a1c1e" stroke-width="1.1"/><ellipse cx="1518.2" cy="756.8" rx="2.4" ry="3" fill="#ececec" stroke="#1a1c1e" stroke-width="1.1"/><ellipse cx="1461.3" cy="847.0" rx="23.3" ry="28.9" transform="rotate(-8 1461.3 847.0)" fill="none" stroke="#1a1c1e" stroke-width="1.6"/><path d="M1466 837.5 L1483.5 833.3 M1466 853.1 L1483.5 848.9" fill="none" stroke="#1a1c1e" stroke-width="1.6"/><ellipse cx="1466" cy="845.3" rx="5.8" ry="7.9" fill="#ececec" stroke="#1a1c1e" stroke-width="1.6"/><ellipse cx="1518.5" cy="861.6" rx="23.0" ry="28.9" transform="rotate(-8 1518.5 861.6)" fill="none" stroke="#1a1c1e" stroke-width="1.6"/><path d="M1520.8 852 L1538.3 847.8 M1520.8 867.6 L1538.3 863.4" fill="none" stroke="#1a1c1e" stroke-width="1.6"/><ellipse cx="1520.8" cy="859.8" rx="5.8" ry="7.9" fill="#ececec" stroke="#1a1c1e" stroke-width="1.6"/><path d="M1467.2 668 L1471.3 640.4 L1515.6 628.8 L1523.8 631.1 L1524.3 649.8 L1506.8 654 L1502.5 674.5 L1474.5 669Z" fill="#ececec" stroke="#1a1c1e" stroke-width="1.6"/><path d="M1471.3 640.4 L1478.8 642.8 L1474.5 669" fill="none" stroke="#1a1c1e" stroke-width="1.6"/><path d="M1478.8 642.8 L1523.8 631.1" fill="none" stroke="#1a1c1e" stroke-width="1.6"/><path d="M1485.8 666 L1485.8 650.3 L1494 647.4 L1506.8 652.1 L1504 672 L1485.8 666Z" fill="#ececec" stroke="#1a1c1e" stroke-width="1.6"/><path d="M1485.8 650.3 L1504 655.5" fill="none" stroke="#1a1c1e" stroke-width="1.6"/><path d="M1502.5 674.5 L1506.8 650.3 L1551.8 638.1 L1559.3 640.4 L1559.3 664.9 L1511.5 677.2Z" fill="#ececec" stroke="#1a1c1e" stroke-width="1.6"/><path d="M1506.8 650.3 L1514 652.5 L1511.5 677.2" fill="none" stroke="#1a1c1e" stroke-width="1.6"/><path d="M1514 652.5 L1559.3 640.4" fill="none" stroke="#1a1c1e" stroke-width="1.6"/></g></defs>
<clipPath id="cC1"><rect x="88" y="362" width="779" height="683" rx="13"/></clipPath>
<clipPath id="cD1"><rect x="937" y="362" width="779" height="683" rx="13"/></clipPath>
<clipPath id="cC2"><rect x="88" y="1065" width="779" height="684" rx="13"/></clipPath>
<clipPath id="cD2"><rect x="937" y="1065" width="779" height="684" rx="13"/></clipPath>
<g clip-path="url(#cC1)"><use href="#handle"/><use href="#arR"/><use href="#abody"/><use href="#nozzle"/></g>
<g clip-path="url(#cD2)"><g transform="translate(806,674.5)"><use href="#handle"/></g><g transform="translate(849,674.5)"><use href="#abody"/><use href="#nozzle"/></g></g>
<g clip-path="url(#cD1)"><use href="#port"/><polygon points="1090.9,663.8 1120.2,671.1 1120.2,715.7 1135.8,719.7 1105.2,745.4 1074.1,703.8 1090.3,707.8" fill="#ef9d36"/><polygon id="arL" points="1327.5,767.5 1359.4,727.5 1359.4,744.2 1402.2,733.9 1402.2,764.2 1359.4,774.7 1359.4,791.7" fill="#ef9d36"/><g transform="translate(534,84)"><use href="#abody"/></g><use href="#conn"/></g>
<g clip-path="url(#cC2)"><g transform="translate(-850,701)"><use href="#port"/><g transform="translate(534,84)"><use href="#abody"/></g><use href="#conn"/></g><use href="#arR" transform="translate(115.7,756.6)"/></g>
<g clip-path="url(#cD2)"><use href="#arL" transform="translate(-105.4,712.5)"/><polygon points="1415.3,1537.2 1444.7,1578.6 1428.9,1574.4 1428.1,1618.3 1398.9,1610.8 1399.4,1566.7 1383.6,1562.2" fill="#ef9d36"/></g>
</svg>
</body></html>
